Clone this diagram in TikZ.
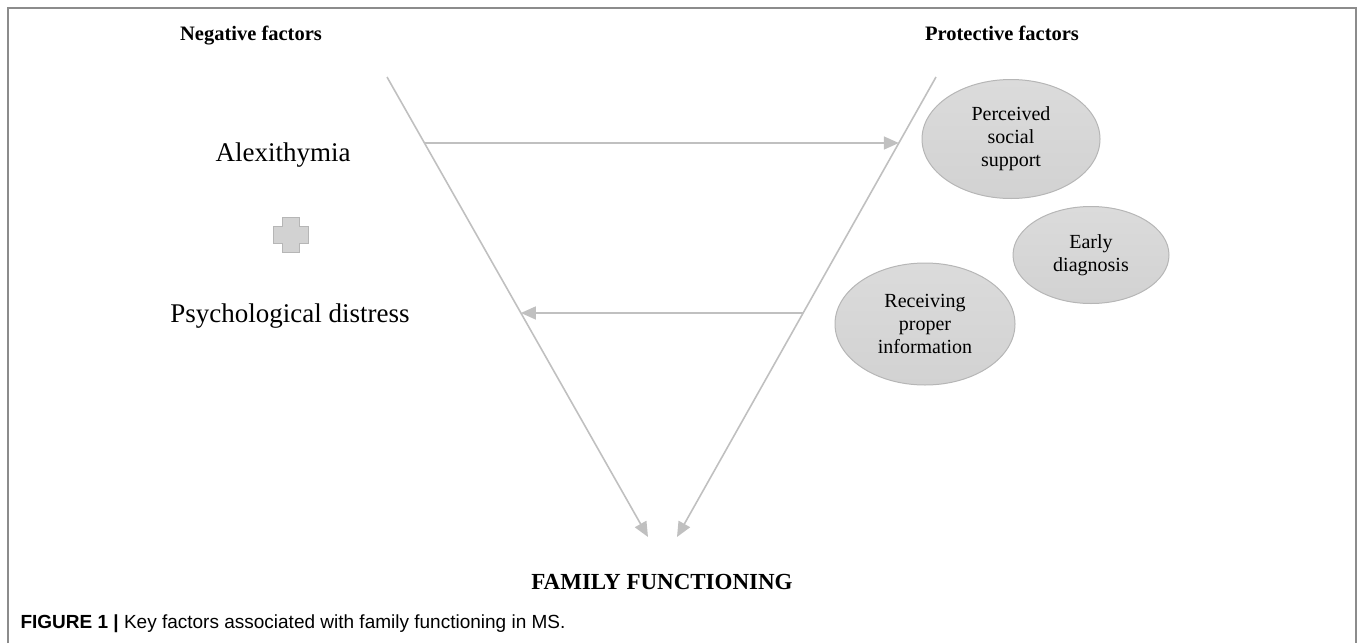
\documentclass[tikz,border=0pt]{standalone}
\usepackage{fontspec}
\setmainfont{Liberation Serif}
\setsansfont{Liberation Sans}
\usetikzlibrary{arrows.meta,shapes.geometric,calc}
\definecolor{linegray}{RGB}{192,192,192}
\definecolor{ovalfill}{RGB}{210,210,210}
\definecolor{ovalborder}{RGB}{182,182,182}
\definecolor{framegray}{RGB}{140,140,140}
\tikzset{
    link/.style={
            draw=linegray, line width=1.6pt,
            -{Triangle[length=15pt,width=13pt]}
        },
    factor/.style={
            ellipse, draw=ovalborder, line width=1pt,
            top color=ovalfill!80, bottom color=ovalfill,
            inner sep=0pt, align=center,
            font=\fontsize{20}{23}\selectfont
        },
    heading/.style={
            anchor=base,
            font=\fontsize{20.5}{24}\selectfont\bfseries
        },
    item/.style={
            anchor=base,
            font=\fontsize{27}{32}\selectfont
        }
}

\begin{document}
\begin{tikzpicture}[x=1pt, y=-1pt]
        \useasboundingbox (0,0) rectangle (1358,643);
        \draw[framegray, line width=2pt] (8,643) -- (8,8) -- (1356,8) -- (1356,643);

        \node[heading] (neg) at (251,40) {Negative factors};
        \node[heading] (pro) at (1002,40) {Protective factors};

        \node[item] (alex) at (283,161) {Alexithymia};
        \node[item] (dist) at (290,322) {Psychological distress};
        \node[heading, font=\fontsize{23}{26}\selectfont\bfseries] (fam) at (662,589) {FAMILY FUNCTIONING};

        % plus between the two negative factors
        \filldraw[fill=ovalfill, draw=ovalborder, line width=1pt]
        (282,217) -- (299,217) -- (299,226) -- (308,226) -- (308,243) -- (299,243)
        -- (299,252) -- (282,252) -- (282,243) -- (273,243) -- (273,226) -- (282,226) -- cycle;

        \node[factor, minimum width=178pt, minimum height=119pt] (soc) at (1011,139) {Perceived\\social\\support};
        \node[factor, minimum width=156pt, minimum height=97pt] (early) at (1091,255) {Early\\diagnosis};
        \node[factor, minimum width=180pt, minimum height=122pt] (info) at (925,324) {Receiving\\proper\\information};

        \coordinate (topL) at (387,77);
        \coordinate (tipL) at (648,537);
        \coordinate (topR) at (936,77);
        \coordinate (tipR) at (677,537);

        \draw[link] (topL) -- (tipL);
        \draw[link] (topR) -- (tipR);
        \draw[link] ($(topL)!0.1435!(tipL)$) -- ($(topR)!0.1435!(tipR)$);
        \draw[link] ($(topR)!0.513!(tipR)$) -- ($(topL)!0.513!(tipL)$);

        \node[anchor=west, font=\sffamily\fontsize{19}{22}\selectfont] (cap) at (17,624)
        {\textbf{FIGURE 1 |} Key factors associated with family functioning in MS.};

    \end{tikzpicture}
\end{document}
